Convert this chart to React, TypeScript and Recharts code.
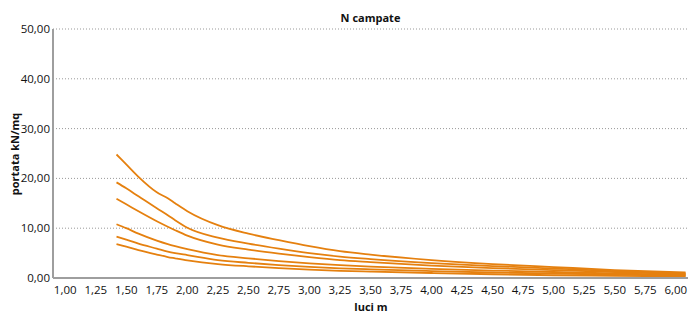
import { LineChart, Line, XAxis, YAxis, CartesianGrid, Label } from 'recharts';

const luci = [1.42, 1.5, 1.6, 1.75, 1.84, 1.9, 2.0, 2.25, 2.5, 2.75, 3.0, 3.25, 3.5, 4.0, 4.5, 5.0, 5.5, 6.08];

const campata1 = [24.8, 22.8, 20.3, 17.2, 16.0, 15.0, 13.4, 10.6, 8.9, 7.6, 6.4, 5.4, 4.7, 3.6, 2.8, 2.2, 1.6, 1.1];
const campata2 = [19.2, 18.0, 16.4, 14.0, 12.6, 11.6, 10.1, 8.1, 6.9, 5.9, 5.0, 4.3, 3.8, 3.0, 2.4, 1.9, 1.4, 0.9];
const campata3 = [15.9, 14.8, 13.4, 11.4, 10.3, 9.6, 8.5, 6.7, 5.7, 4.9, 4.2, 3.6, 3.2, 2.5, 2.0, 1.6, 1.2, 0.8];
const campata4 = [10.8, 10.0, 8.9, 7.5, 6.8, 6.4, 5.8, 4.6, 3.95, 3.4, 2.95, 2.6, 2.3, 1.85, 1.5, 1.2, 0.9, 0.6];
const campata5 = [8.3, 7.7, 6.9, 5.9, 5.3, 5.0, 4.6, 3.6, 3.05, 2.6, 2.25, 1.95, 1.75, 1.4, 1.1, 0.9, 0.7, 0.45];
const campata6 = [6.8, 6.3, 5.6, 4.7, 4.2, 3.95, 3.55, 2.8, 2.35, 2.0, 1.7, 1.45, 1.3, 1.0, 0.75, 0.55, 0.42, 0.3];

const xTicks = [1, 1.25, 1.5, 1.75, 2, 2.25, 2.5, 2.75, 3, 3.25, 3.5, 3.75, 4, 4.25, 4.5, 4.75, 5, 5.25, 5.5, 5.75, 6];
const yTicks = [0, 10, 20, 30, 40, 50];

const series = [campata1, campata2, campata3, campata4, campata5, campata6];
const data = luci.map((x, i) => {
  const row: Record<string, number> = { x };
  series.forEach((s, k) => { row['s' + k] = s[i]; });
  return row;
});

const FONT = '"Open Sans", sans-serif';
const ORANGE = '#E5800F';
const fmt = (v: number) => v.toFixed(2).replace('.', ',');

export default function App() {
  return (
    <div style={{ position: 'absolute', left: 0, top: 0, width: 691, height: 313, background: '#fff', fontFamily: FONT }}>
      <div style={{ position: 'absolute', left: 0, width: 741, top: 10, textAlign: 'center', fontSize: 11, fontWeight: 700, color: '#111' }}>
        N campate
      </div>
      <LineChart width={691} height={313} data={data} margin={{ top: 29, right: 3, bottom: 0, left: 0 }}>
        <CartesianGrid vertical={false} stroke="#999" strokeDasharray="1 2" />
        <XAxis
          dataKey="x"
          type="number"
          domain={[0.9, 6.1]}
          ticks={xTicks}
          tickFormatter={fmt}
          tickLine={false}
          axisLine={{ stroke: '#9e9e9e', strokeWidth: 2 }}
          tick={{ fill: '#111', fontSize: 11.5, fontFamily: FONT }}
          height={35}
          interval={0}
        >
          <Label
            content={() => (
              <text x={371} y={311} textAnchor="middle" fontSize={11} fontWeight={700} fill="#111" fontFamily={FONT}>
                luci m
              </text>
            )}
          />
        </XAxis>
        <YAxis
          type="number"
          domain={[0, 50]}
          ticks={yTicks}
          tickFormatter={fmt}
          tickLine={false}
          tickSize={0}
          tickMargin={3}
          axisLine={{ stroke: '#9e9e9e', strokeWidth: 2 }}
          tick={{ fill: '#111', fontSize: 11.5, fontFamily: FONT }}
          width={53}
        >
          <Label
            content={() => (
              <text x={19} y={154} transform="rotate(-90 19 154)" textAnchor="middle" fontSize={11} fontWeight={700} fill="#111" fontFamily={FONT}>
                portata kN/mq
              </text>
            )}
          />
        </YAxis>
        {series.map((_, k) => (
          <Line
            key={k}
            dataKey={'s' + k}
            type="monotone"
            stroke={ORANGE}
            strokeWidth={1.8}
            dot={false}
            isAnimationActive={false}
          />
        ))}
      </LineChart>
    </div>
  );
}
